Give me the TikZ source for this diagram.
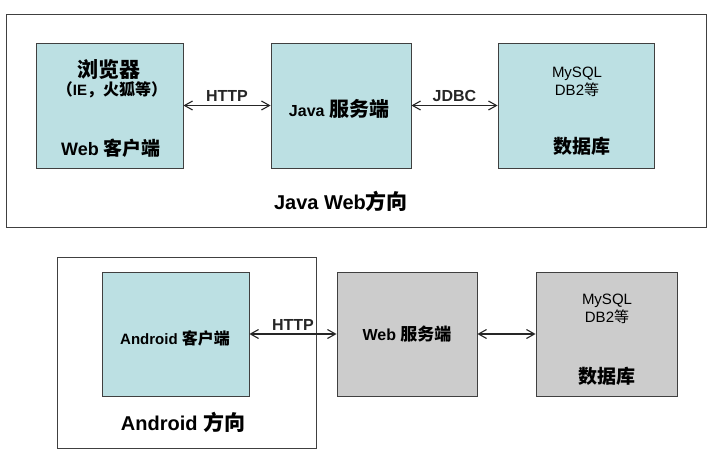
\documentclass[tikz,border=0pt]{standalone}
\usepackage{fontspec}
\setmainfont{Liberation Sans}
\newfontfamily\cjk{Noto Sans CJK SC}
\usetikzlibrary{arrows.meta}
\newcommand\hz[2]{{\fontsize{#1}{#1}\cjk #2}}
\definecolor{qing}{HTML}{BCE0E3}
\definecolor{hui}{HTML}{CCCCCC}
\begin{document}
\begin{tikzpicture}[x=1pt,y=-1pt]
\tikzset{kuang/.style={draw=black!75, line width=0.9pt, inner sep=0pt},
  duan/.style={kuang, fill=qing, minimum height=125pt},
  wen/.style={font=\bfseries\fontsize{16}{19}\selectfont, inner sep=1pt},
  xian/.style={line width=1.1pt, black!85, {Straight Barb[length=8pt,width=9pt]}-{Straight Barb[length=8pt,width=9pt]}}}
\useasboundingbox[fill=white] (0,0) rectangle (720,460);
% Java Web
\node[kuang, minimum width=700pt, minimum height=213pt] (fx1) at (356,120.5) {};
\node[duan, minimum width=147pt] (llq) at (109.5,105.5) {};
\node[duan, minimum width=140pt] (fwd) at (341,105.5) {};
\node[duan, minimum width=156pt] (sjk) at (576,105.5) {};
\node[wen] (llq1) at (109,70) {\hz{21}{浏览器}};
\node[wen, font=\bfseries\fontsize{15}{17}\selectfont] (llq2) at (112,90) {\hz{16}{（}IE\hz{16}{，火狐等）}};
\node[wen, font=\bfseries\fontsize{18}{20}\selectfont] (llq3) at (111,148) {Web \hz{19}{客户端}};
\node[wen] (fwd1) at (339,109) {Java \hz{20}{服务端}};
\node[font=\fontsize{15}{18}\selectfont, align=center] (sjk1) at (577,82) {MySQL\\DB2\hz{15}{等}};
\node[wen] (sjk2) at (582,146) {\hz{19}{数据库}};
\draw[xian] (llq) -- node[wen, font=\bfseries\fontsize{16}{19}\selectfont, above=2pt] (h1) {HTTP} (fwd);
\draw[xian] (fwd) -- node[wen, font=\bfseries\fontsize{16}{19}\selectfont, above=2pt] (j1) {JDBC} (sjk);
\node[wen, font=\bfseries\fontsize{20}{24}\selectfont] (t1) at (341,201) {Java Web\hz{21}{方向}};
% Android
\node[kuang, minimum width=259pt, minimum height=191pt] (fx2) at (186.5,352.5) {};
\node[duan, minimum width=147pt, minimum height=124pt] (az) at (175.5,334) {};
\node[duan, fill=hui, minimum width=140pt, minimum height=124pt] (wfw) at (407,334) {};
\node[duan, fill=hui, minimum width=141pt, minimum height=124pt] (sjk3) at (606.5,334) {};
\node[wen, font=\bfseries\fontsize{15}{18}\selectfont] (az1) at (175,338) {Android \hz{16}{客户端}};
\node[wen] (wfw1) at (407,334) {Web \hz{17}{服务端}};
\node[font=\fontsize{15}{18}\selectfont, align=center] (sjk4) at (607,309) {MySQL\\DB2\hz{15}{等}};
\node[wen] (sjk5) at (607,376) {\hz{19}{数据库}};
\draw[xian] (az) -- node[wen, font=\bfseries\fontsize{16}{19}\selectfont, above=2pt] (h2) {HTTP} (wfw);
\draw[xian] (wfw) -- (sjk3);
\node[wen, font=\bfseries\fontsize{20}{24}\selectfont] (t2) at (183,422) {Android \hz{21}{方向}};
\end{tikzpicture}
\end{document}
